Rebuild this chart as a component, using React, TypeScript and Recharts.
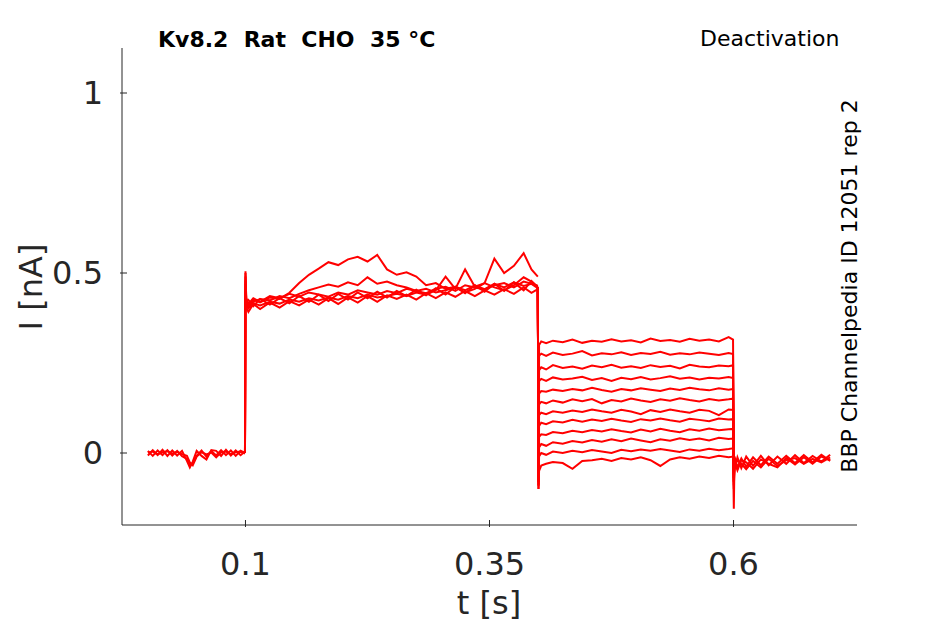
import { LineChart, Line, XAxis, YAxis } from 'recharts';

const axisColor = '#262626';
const traceColor = '#ff0000';
const font = '"DejaVu Sans", sans-serif';

const xTicks = [0.1, 0.35, 0.6];
const yTicks = [0, 0.5, 1];

// holding period before the step
const baseTime = [0, 0.005, 0.01, 0.015, 0.02, 0.025, 0.03, 0.035, 0.04, 0.043, 0.046, 0.05, 0.055, 0.06, 0.065, 0.07, 0.075, 0.08, 0.085, 0.09, 0.095, 0.0995];
const baseA = [0.006, -0.008, 0.007, -0.006, 0.008, -0.007, 0.006, -0.009, -0.016, -0.034, -0.03, -0.008, 0.007, -0.01, 0.006, -0.007, 0.008, -0.006, 0.007, -0.008, 0.006, 0];
const baseB = [-0.007, 0.008, -0.006, 0.009, -0.008, 0.007, -0.007, 0.006, -0.022, -0.04, -0.024, 0.006, -0.008, -0.018, 0.008, 0.006, -0.008, 0.009, -0.007, 0.007, -0.006, 0.004];
const baseC = [0.001, 0.004, -0.004, 0.002, 0.005, -0.002, 0.003, -0.003, -0.008, -0.026, -0.034, -0.01, 0.002, -0.004, 0.001, -0.012, 0.002, 0.004, -0.003, 0.002, 0.004, -0.002];

// activation step 0.1 - 0.4 s
const actTime = [0.0995, 0.1, 0.1008, 0.103, 0.108, 0.115, 0.125, 0.135, 0.145, 0.155, 0.165, 0.175, 0.185, 0.195, 0.205, 0.215, 0.225, 0.235, 0.245, 0.255, 0.265, 0.275, 0.285, 0.295, 0.305, 0.315, 0.325, 0.335, 0.345, 0.355, 0.365, 0.375, 0.385, 0.393, 0.3995];
const actA = [0, 0.505, 0.42, 0.408, 0.426, 0.418, 0.432, 0.428, 0.445, 0.472, 0.495, 0.512, 0.53, 0.522, 0.538, 0.545, 0.532, 0.55, 0.51, 0.495, 0.502, 0.49, 0.466, 0.472, 0.456, 0.462, 0.452, 0.466, 0.455, 0.47, 0.46, 0.474, 0.464, 0.47, 0.458];
const actB = [0, 0.49, 0.415, 0.41, 0.42, 0.428, 0.424, 0.436, 0.43, 0.442, 0.452, 0.46, 0.468, 0.462, 0.474, 0.466, 0.488, 0.47, 0.476, 0.466, 0.46, 0.45, 0.456, 0.446, 0.452, 0.46, 0.446, 0.456, 0.472, 0.46, 0.452, 0.466, 0.488, 0.476, 0.462];
const actC = [0, 0.47, 0.41, 0.402, 0.416, 0.41, 0.42, 0.415, 0.426, 0.42, 0.43, 0.424, 0.432, 0.426, 0.436, 0.43, 0.44, 0.432, 0.436, 0.442, 0.436, 0.446, 0.44, 0.452, 0.49, 0.456, 0.51, 0.462, 0.472, 0.54, 0.5, 0.52, 0.555, 0.51, 0.49];
const actD = [0, 0.45, 0.405, 0.392, 0.414, 0.4, 0.418, 0.404, 0.422, 0.41, 0.426, 0.412, 0.43, 0.414, 0.432, 0.418, 0.436, 0.42, 0.438, 0.428, 0.44, 0.426, 0.444, 0.43, 0.446, 0.434, 0.45, 0.436, 0.452, 0.44, 0.455, 0.442, 0.46, 0.445, 0.455];
const actE = [0, 0.5, 0.43, 0.414, 0.43, 0.42, 0.436, 0.43, 0.442, 0.434, 0.446, 0.44, 0.434, 0.446, 0.44, 0.452, 0.446, 0.44, 0.45, 0.444, 0.456, 0.45, 0.444, 0.456, 0.462, 0.45, 0.466, 0.46, 0.454, 0.466, 0.472, 0.46, 0.476, 0.47, 0.465];
const actF = [0, 0.48, 0.42, 0.425, 0.408, 0.428, 0.412, 0.43, 0.416, 0.436, 0.42, 0.44, 0.422, 0.442, 0.426, 0.446, 0.43, 0.448, 0.432, 0.45, 0.436, 0.454, 0.438, 0.458, 0.44, 0.462, 0.444, 0.466, 0.448, 0.47, 0.45, 0.474, 0.452, 0.478, 0.46];

// deactivation steps 0.4 - 0.6 s, one sweep per voltage
const deacTime = [0.3995, 0.4002, 0.4008, 0.403, 0.408, 0.415, 0.425, 0.435, 0.445, 0.455, 0.465, 0.475, 0.485, 0.495, 0.505, 0.515, 0.525, 0.535, 0.545, 0.555, 0.565, 0.575, 0.585, 0.595, 0.5995, 0.6003, 0.601];
const deac1 = [0.46, -0.06, 0.3, 0.31, 0.305, 0.312, 0.308, 0.315, 0.306, 0.312, 0.309, 0.316, 0.31, 0.313, 0.307, 0.318, 0.311, 0.314, 0.309, 0.317, 0.312, 0.315, 0.31, 0.322, 0.315, -0.05, -0.02];
const deac2 = [0.46, -0.06, 0.27, 0.276, 0.27, 0.279, 0.272, 0.276, 0.283, 0.271, 0.277, 0.274, 0.28, 0.272, 0.278, 0.275, 0.281, 0.273, 0.277, 0.274, 0.279, 0.276, 0.272, 0.278, 0.275, -0.05, -0.025];
const deac3 = [0.46, -0.07, 0.23, 0.238, 0.232, 0.244, 0.236, 0.24, 0.234, 0.243, 0.238, 0.245, 0.237, 0.241, 0.236, 0.244, 0.239, 0.242, 0.235, 0.245, 0.24, 0.238, 0.243, 0.241, 0.244, -0.06, -0.02];
const deac4 = [0.46, -0.07, 0.2, 0.206, 0.2, 0.21, 0.204, 0.207, 0.212, 0.203, 0.208, 0.2, 0.209, 0.205, 0.211, 0.204, 0.208, 0.213, 0.206, 0.21, 0.204, 0.209, 0.207, 0.211, 0.208, -0.06, -0.03];
const deac5 = [0.46, -0.07, 0.165, 0.172, 0.17, 0.176, 0.172, 0.178, 0.174, 0.181, 0.175, 0.17, 0.178, 0.174, 0.18, 0.176, 0.172, 0.179, 0.175, 0.181, 0.177, 0.174, 0.18, 0.176, 0.178, -0.06, -0.02];
const deac6 = [0.46, -0.08, 0.135, 0.142, 0.138, 0.146, 0.14, 0.149, 0.144, 0.15, 0.138, 0.147, 0.143, 0.151, 0.146, 0.142, 0.149, 0.145, 0.152, 0.147, 0.143, 0.15, 0.146, 0.149, 0.151, -0.07, -0.025];
const deac7 = [0.46, -0.08, 0.105, 0.112, 0.108, 0.116, 0.112, 0.118, 0.114, 0.121, 0.116, 0.112, 0.12, 0.115, 0.108, 0.119, 0.114, 0.121, 0.116, 0.112, 0.12, 0.117, 0.105, 0.121, 0.12, -0.07, -0.02];
const deac8 = [0.46, -0.08, 0.075, 0.084, 0.08, 0.088, 0.085, 0.092, 0.087, 0.093, 0.089, 0.095, 0.09, 0.086, 0.094, 0.09, 0.096, 0.091, 0.087, 0.095, 0.092, 0.088, 0.096, 0.093, 0.094, -0.08, -0.03];
const deac9 = [0.46, -0.09, 0.045, 0.052, 0.05, 0.058, 0.055, 0.062, 0.058, 0.064, 0.06, 0.066, 0.061, 0.057, 0.065, 0.06, 0.067, 0.062, 0.058, 0.066, 0.062, 0.068, 0.063, 0.066, 0.067, -0.08, -0.02];
const deac10 = [0.46, -0.09, 0.015, 0.025, 0.02, 0.03, 0.026, 0.033, 0.029, 0.036, 0.031, 0.038, 0.033, 0.04, 0.035, 0.03, 0.038, 0.034, 0.041, 0.036, 0.04, 0.035, 0.042, 0.039, 0.04, -0.09, -0.025];
const deac11 = [0.46, -0.1, -0.01, 0.0, -0.005, 0.004, 0.0, 0.006, 0.002, 0.008, 0.004, 0.0, 0.009, 0.005, 0.01, 0.006, 0.011, 0.007, 0.003, 0.01, 0.006, 0.012, 0.008, 0.011, 0.013, -0.1, -0.03];
const deac12 = [0.46, -0.1, -0.05, -0.035, -0.03, -0.025, -0.028, -0.044, -0.022, -0.02, -0.016, -0.022, -0.014, -0.018, -0.012, -0.02, -0.036, -0.018, -0.012, -0.016, -0.01, -0.014, -0.008, -0.012, -0.01, -0.155, -0.02];

// tail after 0.6 s
const tailTime = [0.601, 0.604, 0.608, 0.613, 0.62, 0.628, 0.636, 0.645, 0.654, 0.663, 0.672, 0.681, 0.69, 0.699];
const tailA = [-0.01, -0.04, -0.015, -0.038, -0.012, -0.034, -0.01, -0.03, -0.008, -0.028, -0.006, -0.026, -0.005, -0.022];
const tailB = [-0.045, -0.012, -0.042, -0.01, -0.036, -0.008, -0.034, -0.01, -0.03, -0.006, -0.028, -0.008, -0.024, -0.005];
const tailC = [-0.025, -0.048, -0.02, -0.026, -0.044, -0.018, -0.03, -0.04, -0.014, -0.032, -0.012, -0.03, -0.01, -0.02];
const tailD = [-0.035, -0.02, -0.03, -0.045, -0.022, -0.04, -0.016, -0.036, -0.02, -0.014, -0.03, -0.016, -0.026, -0.012];

const toPoints = (time: number[], values: number[]) =>
  time.map((t, i) => ({ t, v: values[i] }));

const traces = [
  ...[baseA, baseB, baseC].map((v) => toPoints(baseTime, v)),
  ...[actD, actF, actE, actB, actC, actA].map((v) => toPoints(actTime, v)),
  ...[deac1, deac2, deac3, deac4, deac5, deac6, deac7, deac8, deac9, deac10, deac11, deac12].map((v) =>
    toPoints(deacTime, v)
  ),
  ...[tailA, tailB, tailC, tailD].map((v) => toPoints(tailTime, v)),
];

const XTick = (props: any) => {
  const { x, y, payload } = props;
  return (
    <g>
      <line x1={x} x2={x} y1={y} y2={y - 7} stroke={axisColor} />
      <text x={x} y={y + 48} textAnchor="middle" fontSize={32} fill={axisColor} fontFamily={font}>
        {payload.value}
      </text>
    </g>
  );
};

const YTick = (props: any) => {
  const { x, y, payload } = props;
  return (
    <g>
      <line x1={x} x2={x + 7} y1={y} y2={y} stroke={axisColor} />
      <text x={x - 17} y={y + 11} textAnchor="end" fontSize={32} fill={axisColor} fontFamily={font}>
        {payload.value}
      </text>
    </g>
  );
};

export default function App() {
  return (
    <div style={{ position: 'absolute', left: 0, top: 0, width: 945, height: 624, background: '#fff' }}>
      <LineChart width={945} height={624} margin={{ top: 48, right: 88, bottom: 59, left: 82 }}>
        <XAxis
          dataKey="t"
          type="number"
          domain={[-0.0265, 0.7265]}
          ticks={xTicks}
          interval={0}
          height={40}
          tickSize={0}
          tickLine={false}
          tick={<XTick />}
          axisLine={{ stroke: axisColor }}
          allowDataOverflow
        />
        <YAxis
          type="number"
          domain={[-0.2, 1.125]}
          ticks={yTicks}
          interval={0}
          width={40}
          tickSize={0}
          tickLine={false}
          tick={<YTick />}
          axisLine={{ stroke: axisColor }}
          allowDataOverflow
        />
        {traces.map((pts, i) => (
          <Line
            key={i}
            data={pts}
            dataKey="v"
            type="linear"
            stroke={traceColor}
            strokeWidth={2}
            dot={false}
            activeDot={false}
            isAnimationActive={false}
          />
        ))}
      </LineChart>
      <svg
        width={945}
        height={624}
        style={{ position: 'absolute', left: 0, top: 0, pointerEvents: 'none' }}
        fontFamily={font}
      >
        <text x={158} y={47} fontSize={22} fontWeight="bold" fill="#000" style={{ whiteSpace: 'pre' }}>
          {'Kv8.2  Rat  CHO  35 °C'}
        </text>
        <text x={700} y={46} fontSize={22} fill="#000">
          Deactivation
        </text>
        <text x={857} y={286} fontSize={22} fill="#000" textAnchor="middle" transform="rotate(-90 857 286)">
          BBP Channelpedia ID 12051 rep 2
        </text>
        <text x={42} y={287} fontSize={32} fill={axisColor} textAnchor="middle" transform="rotate(-90 42 287)">
          I [nA]
        </text>
        <text x={489} y={614} fontSize={32} fill={axisColor} textAnchor="middle">
          t [s]
        </text>
      </svg>
    </div>
  );
}
